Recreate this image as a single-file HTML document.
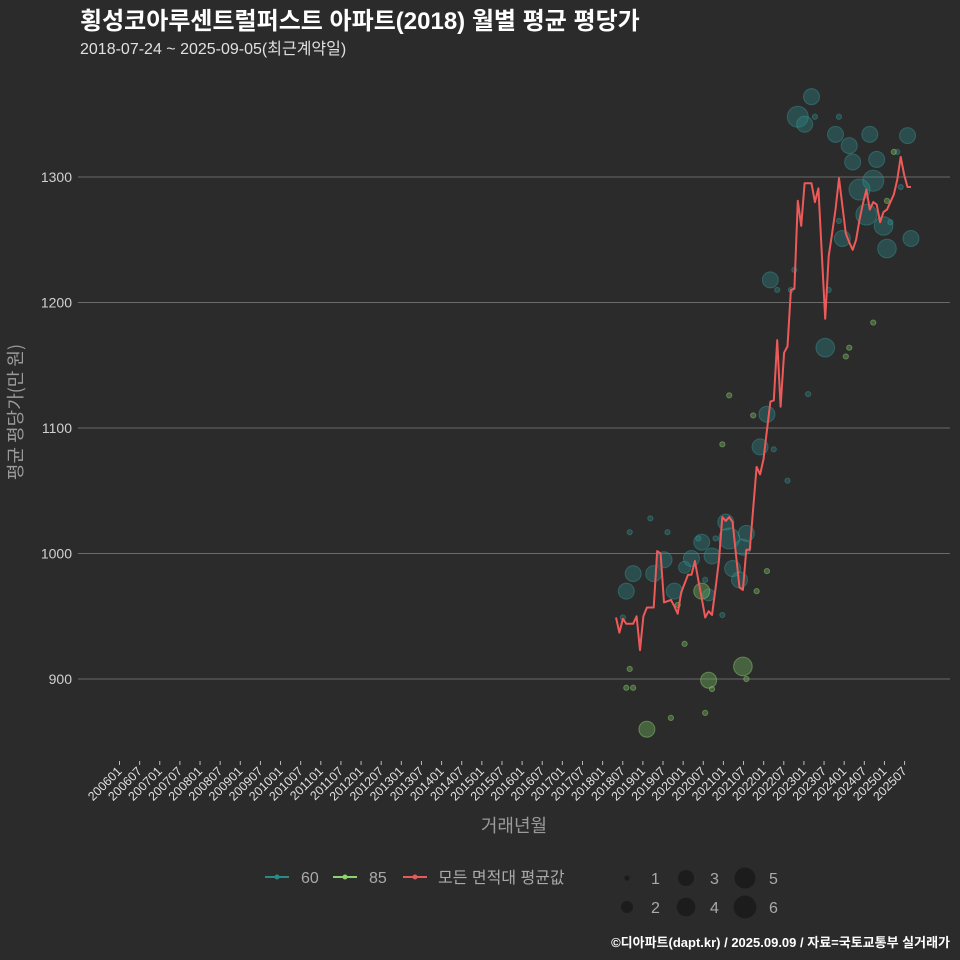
<!DOCTYPE html>
<html><head><meta charset="utf-8">
<style>
html,body{margin:0;padding:0;background:#2b2b2b;}
svg{display:block;font-family:"Liberation Sans","Noto Sans CJK KR",sans-serif;}
</style></head>
<body>
<svg id="chart" width="960" height="960" viewBox="0 0 960 960">
<rect width="960" height="960" fill="#2b2b2b"/>
<text x="80" y="29" font-size="24" font-weight="bold" fill="#ffffff">횡성코아루센트럴퍼스트 아파트(2018) 월별 평균 평당가</text>
<text x="80" y="54" font-size="16" fill="#e0e0e0">2018-07-24 ~ 2025-09-05(최근계약일)</text>
<g id="grid"></g>
<g id="yaxis"></g>
<g id="xaxis"></g>
<g id="bubbles"></g>
<g id="line"></g>
<text x="0" y="0" transform="translate(22,412) rotate(-90)" text-anchor="middle" font-size="18" fill="#9a9a9a" font-family="'Noto Sans CJK KR',sans-serif">평균 평당가(만 원)</text>
<text x="514" y="832" text-anchor="middle" font-size="18" fill="#9a9a9a">거래년월</text>
<g>
<g><line x1="265" y1="877" x2="289" y2="877" stroke="#2a8a8a" stroke-width="2"/><circle cx="277" cy="877" r="2.5" fill="#2a8a8a"/><text x="301" y="883" font-size="16" fill="#aaaaaa">60</text></g>
<g><line x1="333" y1="877" x2="357" y2="877" stroke="#8fd16a" stroke-width="2"/><circle cx="345" cy="877" r="2.5" fill="#8fd16a"/><text x="369" y="883" font-size="16" fill="#aaaaaa">85</text></g>
<g><line x1="403" y1="877" x2="427" y2="877" stroke="#e8595a" stroke-width="2"/><circle cx="415" cy="877" r="2.5" fill="#e8595a"/><text x="438" y="883" font-size="16" fill="#aaaaaa">모든 면적대 평균값</text></g>
</g>
<g id="sizelegend"></g>
<text x="950" y="947" text-anchor="end" font-size="13" font-weight="bold" fill="#ffffff">©디아파트(dapt.kr) / 2025.09.09 / 자료=국토교통부 실거래가</text>
</svg>
<script>
// average line: monthly from 2018-07
const lineValues = [949,937,948,944,944,944,950,923,950,957,957,957,1002,1000,961,962,963,958,952,969,976,983,983,994,979,964,949,954,951,972,994,1029,1026,1029,1025,999,973,971,1003,1003,1036,1069,1063,1075,1098,1121,1122,1170,1117,1160,1165,1210,1211,1281,1261,1295,1295,1295,1280,1291,1239,1187,1237,1255,1274,1299,1277,1255,1248,1242,1250,1266,1279,1290,1274,1280,1278,1264,1272,1274,1280,1286,1298,1316,1302,1292,1292];
// bubbles: month index since 2018-07, value, count
const teal60Month = [57,53,55,58,65,64,74,85,68,69,76,82,75,71,83,73,65,78,80,66,86,79,52,45,47,51,62,61,56,44,42,46,50,38,10,4,15,5,3,11,14,17,20,22,25,24,28,29,32,33,37,34,36,26,27,31,2];
const teal60Value = [1364,1348,1342,1348,1348,1334,1334,1333,1325,1312,1314,1320,1297,1290,1292,1270,1265,1261,1264,1251,1251,1243,1226,1218,1210,1210,1210,1164,1127,1111,1085,1083,1058,1016,1028,1017,1017,984,970,984,995,970,989,996,1009,1012,998,1012,1025,1012,1005,988,979,979,967,951,949];
const teal60Count = [3,5,3,1,1,3,3,3,3,3,3,1,5,5,1,5,1,4,1,3,3,4,1,3,1,1,1,4,1,3,3,1,1,3,1,1,1,3,3,3,3,3,2,3,3,1,3,1,3,5,3,3,3,1,2,1,1];
const green85Month = [81,79,75,68,67,40,33,31,41,44,18,25,20,4,3,5,27,28,37,38,16,26,9];
const green85Value = [1320,1281,1184,1164,1157,1110,1126,1087,970,986,959,970,928,908,893,893,899,892,910,900,869,873,860];
const green85Count = [1,1,1,1,1,1,1,1,1,1,1,3,1,1,1,1,3,1,4,1,1,1,3];
const yTicks = [900,1000,1100,1200,1300];
const xTickLabels = [];
for (let y = 2006; y <= 2025; y++) { xTickLabels.push(y + "01"); xTickLabels.push(y + "07"); }
const sizeLevels = [1,2,3,4,5,6];

const NS = "http://www.w3.org/2000/svg";
function mk(tag, attrs, parent) { const e = document.createElementNS(NS, tag); for (const k in attrs) e.setAttribute(k, attrs[k]); parent.appendChild(e); return e; }
const yScale = v => 177 + (1300 - v) * 1.255;
const xScale = i => 616 + i * 3.43;          // month index since 2018-07
const xTick = j => 119.5 + j * 20.13;        // tick index (every 6 months since 2006-01)
const rScale = c => [0,2.6,6,8,9.3,10.5,11.4][c];

const grid = document.getElementById('grid'), yax = document.getElementById('yaxis');
yTicks.forEach(v => {
  const l = mk('line', {x1:78, x2:950, y1:yScale(v), y2:yScale(v), stroke:'#6a6a6a', 'stroke-width':1}, grid);
  
  
  const t = mk('text', {x:72, y:yScale(v)+5, 'text-anchor':'end', 'font-size':14, fill:'#d0d0d0'}, yax);
  t.textContent = v;
  
  
});
const xax = document.getElementById('xaxis');
xTickLabels.forEach((lab, j) => {
  const x = xTick(j);
  const tk = mk('line', {x1:x, x2:x, y1:761, y2:765, stroke:'#bbbbbb', 'stroke-width':1}, xax);
  
  
  const t = mk('text', {x:0, y:0, transform:`translate(${x+3},${772}) rotate(-45)`, 'text-anchor':'end', 'font-size':12.5, fill:'#e0e0e0'}, xax);
  t.textContent = lab;
  
  
});
const bub = document.getElementById('bubbles');
function drawSeries(months, vals, counts, fill, stroke, name) {
  months.forEach((m, k) => {
    const c = mk('circle', {cx:xScale(m), cy:yScale(vals[k]), r:rScale(counts[k]), fill:fill, stroke:stroke, 'stroke-width':1}, bub);
    
    
  });
}
drawSeries(teal60Month, teal60Value, teal60Count, 'rgba(42,140,140,0.35)', 'rgba(60,160,160,0.4)', 'bubble-60');
drawSeries(green85Month, green85Value, green85Count, 'rgba(110,175,90,0.42)', 'rgba(140,200,110,0.5)', 'bubble-85');
const pts = lineValues.map((v, i) => xScale(i).toFixed(1) + ',' + yScale(v).toFixed(1)).join(' ');
const pl = mk('polyline', {points:pts, fill:'none', stroke:'#ee5a5a', 'stroke-width':2, 'stroke-linejoin':'round'}, document.getElementById('line'));


const sl = document.getElementById('sizelegend');
sizeLevels.forEach((s, k) => {
  const col = Math.floor(k / 2), row = k % 2;
  const cx = 627 + col * 59, cy = 878 + row * 29;
  const c = mk('circle', {cx:cx, cy:cy, r:rScale(s), fill:'#1c1c1c'}, sl);
  
  
  const t = mk('text', {x:cx+24, y:cy+6, 'font-size':16, fill:'#aaaaaa'}, sl);
  t.textContent = s;
  
  
});
</script>
</body></html>
